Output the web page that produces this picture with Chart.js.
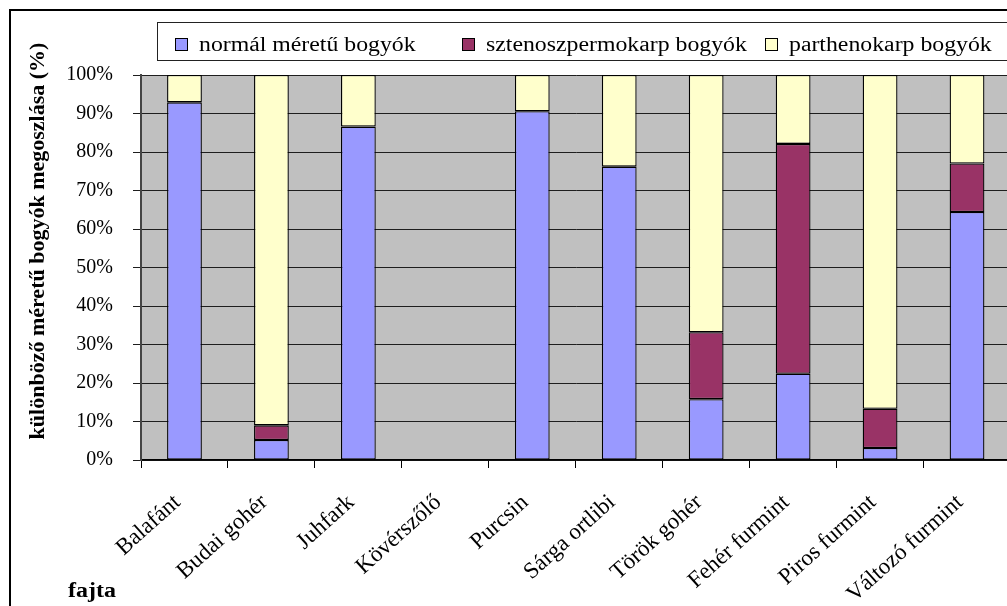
<!DOCTYPE html>
<html>
<head>
<meta charset="utf-8">
<script src="https://cdn.jsdelivr.net/npm/chart.js@4/dist/chart.umd.min.js"></script>
<style>
  html, body { margin: 0; padding: 0; background: #fff; width: 1007px; height: 606px; overflow: hidden; }
  canvas { display: block; }
</style>
</head>
<body>
<canvas id="c" width="1040" height="640" style="width:1040px;height:640px"></canvas>
<script>
// Grape varieties and the share (%) of each berry type per variety
const categories = ['Balafánt', 'Budai gohér', 'Juhfark', 'Kövérszőlő', 'Purcsin',
  'Sárga ortlibi', 'Török gohér', 'Fehér furmint', 'Piros furmint', 'Változó furmint'];
const normalBerries      = [92.9, 5.2, 86.6, null, 90.6, 76.2, 15.8, 22.4, 3.1, 64.4];
const stenospermBerries  = [0,    3.8, 0,    null, 0,    0,    17.4, 59.7, 10.2, 12.6];
const parthenocarpBerries = [7.1, 91.0, 13.4, null, 9.4, 23.8, 66.8, 17.9, 86.7, 23.0];
const seriesNames = ['normál méretű bogyók', 'sztenoszpermokarp bogyók', 'parthenokarp bogyók'];
const yTickValues = [0, 10, 20, 30, 40, 50, 60, 70, 80, 90, 100];
const yAxisTitle = 'különböző méretű bogyók megoszlása (%)';
const xAxisTitle = 'fajta';

const SERIF = '"Liberation Serif", "Times New Roman", Times, serif';
const COLORS = ['#9999ff', '#993366', '#ffffcc'];

// Frame, plot background, legend and axis titles
const decor = {
  id: 'decor',
  beforeDraw(chart) {
    const { ctx, chartArea: a } = chart;
    ctx.save();
    ctx.fillStyle = '#ffffff';
    ctx.fillRect(0, 0, chart.width, chart.height);
    ctx.fillStyle = '#c0c0c0';
    ctx.fillRect(a.left, a.top, a.right - a.left, a.bottom - a.top);
    ctx.restore();
  },
  afterDraw(chart) {
    const ctx = chart.ctx;
    ctx.save();

    // outer frame
    ctx.strokeStyle = '#000';
    ctx.lineWidth = 2;
    ctx.strokeRect(10, 10, chart.width + 20, chart.height + 20);

    // legend box
    ctx.lineWidth = 1;
    ctx.strokeStyle = '#222';
    ctx.fillStyle = '#fff';
    ctx.fillRect(157.5, 22.5, chart.width, 38);
    ctx.strokeRect(157.5, 22.5, chart.width, 38);

    const markerX = [175, 462, 765];
    ctx.font = '20.5px ' + SERIF;
    ctx.textBaseline = 'alphabetic';
    ctx.textAlign = 'left';
    chart.data.datasets.forEach((ds, i) => {
      const mx = markerX[i];
      ctx.fillStyle = ds.backgroundColor;
      ctx.fillRect(mx + 0.5, 38.5, 12, 12);
      ctx.strokeStyle = '#000';
      ctx.lineWidth = 1;
      ctx.strokeRect(mx + 0.5, 38.5, 12, 12);
      ctx.save();
      ctx.translate(mx + 24, 50.5);
      ctx.scale(1.16, 1);
      ctx.fillStyle = '#000';
      ctx.fillText(ds.label, 0, 0);
      ctx.restore();
    });

    // y axis title
    ctx.save();
    ctx.translate(44, 241);
    ctx.rotate(-Math.PI / 2);
    ctx.font = 'bold 22px ' + SERIF;
    ctx.textAlign = 'center';
    ctx.textBaseline = 'alphabetic';
    ctx.fillStyle = '#000';
    ctx.fillText(yAxisTitle, 0, 0);
    ctx.restore();

    // x axis title
    ctx.save();
    ctx.translate(68, 597);
    ctx.scale(1.2, 1);
    ctx.font = 'bold 20px ' + SERIF;
    ctx.textAlign = 'left';
    ctx.fillStyle = '#000';
    ctx.fillText(xAxisTitle, 0, 0);
    ctx.restore();

    ctx.restore();
  }
};

const barStyle = { borderColor: '#000', borderWidth: 1.3, borderSkipped: false,
  barPercentage: 0.4, categoryPercentage: 1.0 };

new Chart(document.getElementById('c'), {
  type: 'bar',
  data: {
    labels: categories,
    datasets: [
      { label: seriesNames[0], data: normalBerries, backgroundColor: COLORS[0], ...barStyle },
      { label: seriesNames[1], data: stenospermBerries, backgroundColor: COLORS[1], ...barStyle },
      { label: seriesNames[2], data: parthenocarpBerries, backgroundColor: COLORS[2], ...barStyle }
    ]
  },
  options: {
    responsive: false,
    animation: false,
    devicePixelRatio: 1,
    layout: { padding: { left: 0, top: 75, right: 29.5, bottom: 0 } },
    plugins: { legend: { display: false }, tooltip: { enabled: false } },
    scales: {
      x: {
        stacked: true,
        afterFit(scale) { scale.height = 180; },
        grid: { drawOnChartArea: false, drawTicks: true, tickLength: 8, color: '#000', lineWidth: 1 },
        border: { color: '#000', width: 1.5 },
        ticks: {
          autoSkip: false, minRotation: 42, maxRotation: 42, padding: 21, labelOffset: -7,
          color: '#000', font: { family: SERIF, size: 23 }
        }
      },
      y: {
        stacked: true,
        min: 0, max: 100,
        afterFit(scale) { scale.width = 141; },
        afterBuildTicks(scale) { scale.ticks = yTickValues.map(v => ({ value: v })); },
        grid: { color: '#1e1e1e', lineWidth: 1, drawTicks: true, tickLength: 8 },
        border: { color: '#444', width: 2 },
        ticks: {
          padding: 20, color: '#000', font: { family: SERIF, size: 20 },
          callback: v => v + '%'
        }
      }
    }
  },
  plugins: [decor]
});
</script>
</body>
</html>
